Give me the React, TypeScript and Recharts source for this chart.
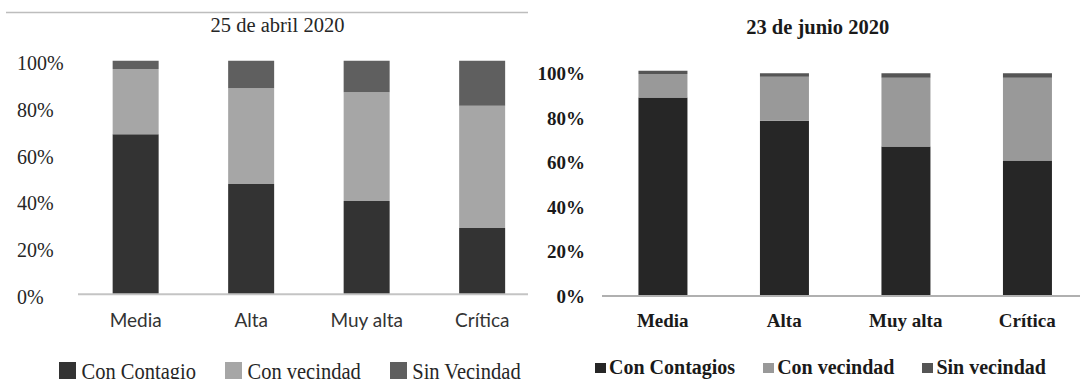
import React from 'react';
import { BarChart, Bar, XAxis, YAxis, Legend } from 'recharts';

const SERIF = '"Liberation Serif", "Times New Roman", serif';

const categories = ['Media', 'Alta', 'Muy alta', 'Crítica'];
const yTicks = [0, 20, 40, 60, 80, 100];

// 25 de abril 2020 (%)
const abrilContagio = [68.5, 47.2, 39.9, 28.4];
const abrilVecindad = [27.9, 41.0, 46.6, 52.3];
const abrilSinVecindad = [3.6, 11.8, 13.5, 19.3];

// 23 de junio 2020 (%)
const junioContagios = [89.2, 78.7, 67.2, 60.9];
const junioVecindad = [10.5, 19.8, 30.8, 37.1];
const junioSinVecindad = [1.5, 1.5, 2.0, 2.0];

const abrilData = categories.map((name, i) => ({
  name,
  contagio: abrilContagio[i],
  vecindad: abrilVecindad[i],
  sin: abrilSinVecindad[i],
}));

const junioData = categories.map((name, i) => ({
  name,
  contagio: junioContagios[i],
  vecindad: junioVecindad[i],
  sin: junioSinVecindad[i],
}));

const AbrilYTick = ({ x, y, payload }: any) => (
  <text
    transform={`translate(${x - 61},${y + 9.6}) scale(1,1.1)`}
    fontFamily={SERIF}
    fontSize={20}
    fill="#262626"
  >
    {payload.value}%
  </text>
);

const AbrilXTick = ({ x, y, payload }: any) => (
  <text x={x} y={y + 33} textAnchor="middle" fontFamily="Lato" fontSize={19} fill="#333">
    {payload.value}
  </text>
);

const JunioYTick = ({ x, y, payload }: any) => (
  <text
    x={x - 17}
    y={y + 7}
    textAnchor="end"
    fontFamily={SERIF}
    fontWeight="bold"
    fontSize={19}
    fill="#1a1a1a"
  >
    {payload.value}%
  </text>
);

const JunioXTick = ({ x, y, payload }: any) => (
  <text
    x={x}
    y={y + 30.5}
    textAnchor="middle"
    fontFamily={SERIF}
    fontWeight="bold"
    fontSize={19}
    fill="#1a1a1a"
  >
    {payload.value}
  </text>
);

const AbrilLegend = ({ payload }: any) => (
  <div style={{ display: 'flex', fontFamily: SERIF, fontSize: 20.5, color: '#262626' }}>
    {(payload || []).map((entry: any, i: number) => (
      <div key={i} style={{ display: 'flex', alignItems: 'center', marginRight: 29 }}>
        <span style={{ width: 17, height: 17, background: entry.color, marginRight: 5.5 }} />
        <span
          style={{
            lineHeight: '17px',
            display: 'inline-block',
            transform: 'scaleY(1.1)',
            position: 'relative',
            top: 1.5,
            whiteSpace: 'nowrap',
          }}
        >
          {entry.value}
        </span>
      </div>
    ))}
  </div>
);

const JunioLegend = ({ payload }: any) => (
  <div
    style={{
      display: 'flex',
      fontFamily: SERIF,
      fontWeight: 'bold',
      fontSize: 20,
      color: '#1a1a1a',
    }}
  >
    {(payload || []).map((entry: any, i: number) => (
      <div key={i} style={{ display: 'flex', alignItems: 'center', marginRight: 28 }}>
        <span style={{ width: 11, height: 10, background: entry.color, marginRight: 3 }} />
        <span
          style={{
            lineHeight: '10px',
            display: 'inline-block',
            position: 'relative',
            top: -1,
            whiteSpace: 'nowrap',
          }}
        >
          {entry.value}
        </span>
      </div>
    ))}
  </div>
);

export default function App() {
  return (
    <div
      style={{
        position: 'absolute',
        left: 0,
        top: 0,
        width: 1080,
        height: 379,
        background: '#fff',
        overflow: 'hidden',
      }}
    >
      <div style={{ position: 'absolute', left: 0, top: 0, width: 528, height: 379, overflow: 'hidden' }}>
        <BarChart
          width={540}
          height={379}
          data={abrilData}
          margin={{ top: 60.7, right: 0, bottom: 54.7, left: 0 }}
          barCategoryGap="30%"
        >
          <XAxis
            dataKey="name"
            interval={0}
            height={30}
            axisLine={{ stroke: '#c4c4c4', strokeWidth: 2 }}
            tickLine={false}
            tickSize={0}
            tickMargin={0}
            tick={<AbrilXTick />}
          />
          <YAxis
            width={78}
            domain={[0, 100]}
            ticks={yTicks}
            axisLine={false}
            tickLine={false}
            tickSize={0}
            tickMargin={0}
            tick={<AbrilYTick />}
          />
          <Legend
            layout="horizontal"
            verticalAlign="middle"
            align="center"
            wrapperStyle={{ left: 59, top: 361.7, width: 'auto', height: 'auto' }}
            content={<AbrilLegend />}
          />
          <Bar dataKey="contagio" name="Con Contagio" stackId="a" fill="#333333" isAnimationActive={false} />
          <Bar dataKey="vecindad" name="Con vecindad" stackId="a" fill="#a6a6a6" isAnimationActive={false} />
          <Bar dataKey="sin" name="Sin Vecindad" stackId="a" fill="#5f5f5f" isAnimationActive={false} />
        </BarChart>
      </div>

      <div style={{ position: 'absolute', left: 530, top: 0, width: 550, height: 379, overflow: 'hidden' }}>
        <BarChart
          width={558}
          height={379}
          data={junioData}
          margin={{ top: 70.7, right: 0, bottom: 53, left: 0 }}
          barCategoryGap="30%"
        >
          <XAxis
            dataKey="name"
            interval={0}
            height={30}
            axisLine={{ stroke: '#b0b0b0', strokeWidth: 2 }}
            tickLine={false}
            tickSize={0}
            tickMargin={0}
            tick={<JunioXTick />}
          />
          <YAxis
            width={72}
            domain={[0, 'dataMax']}
            ticks={yTicks}
            axisLine={false}
            tickLine={false}
            tickSize={0}
            tickMargin={0}
            tick={<JunioYTick />}
          />
          <Legend
            layout="horizontal"
            verticalAlign="middle"
            align="center"
            wrapperStyle={{ left: 65, top: 363.3, width: 'auto', height: 'auto' }}
            content={<JunioLegend />}
          />
          <Bar dataKey="contagio" name="Con Contagios" stackId="b" fill="#262626" isAnimationActive={false} />
          <Bar dataKey="vecindad" name="Con vecindad" stackId="b" fill="#999999" isAnimationActive={false} />
          <Bar dataKey="sin" name="Sin vecindad" stackId="b" fill="#555555" isAnimationActive={false} />
        </BarChart>
      </div>

      <svg
        width={1080}
        height={379}
        style={{ position: 'absolute', left: 0, top: 0, pointerEvents: 'none' }}
      >
        <line x1={6} y1={12.5} x2={528} y2={12.5} stroke="#bdbdbd" strokeWidth={1.5} />
        <text x={277.5} y={31.7} textAnchor="middle" fontFamily={SERIF} fontSize={20.5} fill="#262626">
          25 de abril 2020
        </text>
        <text
          x={817.7}
          y={34}
          textAnchor="middle"
          fontFamily={SERIF}
          fontWeight="bold"
          fontSize={20.5}
          fill="#1a1a1a"
        >
          23 de junio 2020
        </text>
      </svg>
    </div>
  );
}
